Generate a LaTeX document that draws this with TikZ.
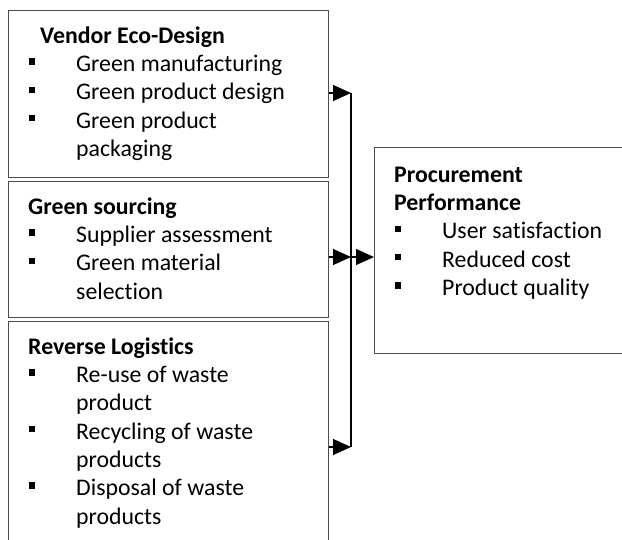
\documentclass[tikz,border=0pt]{standalone}
\usepackage{fontspec}
\setmainfont{Carlito}[Ligatures=NoCommon]
\usetikzlibrary{calc}
\usetikzlibrary{arrows.meta}

\newcommand{\itm}[1]{\makebox[48pt][l]{\hspace{0.5pt}\rule[6.8pt]{6.5pt}{6.5pt}}#1}
\newcommand{\cnt}[1]{\hspace*{48pt}#1}

\begin{document}
\begin{tikzpicture}[
    x=1pt, y=1pt,
    box/.style={
        draw=black!70, line width=1pt,
        minimum width=320pt, inner sep=0pt, anchor=north west
    },
    txt/.style={
        anchor=north west, align=left, inner sep=0pt,
        font=\fontsize{23.8}{28.3}\selectfont
    },
    l/.style={line width=1.1pt},
    arr/.style={line width=1.1pt, -{Triangle[length=18pt,width=16pt]}}
]
    \clip (0,0) rectangle (622,-539);

    \node [box, minimum height=167pt] (vendor) at (8,-10) {};
    \node [box, minimum height=136pt] (sourcing) at (8,-181) {};
    \node [box, minimum height=252pt] (reverse) at (8,-321) {};
    \node [box, minimum width=266pt, minimum height=206pt] (perf) at (374,-147) {};

    \node [txt] (vendor-t) at ($(vendor.north west)+(20,-13.2)$) {%
        \strut\hspace*{12pt}\textbf{Vendor Eco-Design}\\
        \itm{Green manufacturing}\\
        \itm{Green product design}\\
        \itm{Green product}\\
        \cnt{packaging}};
    \node [txt] (sourcing-t) at ($(sourcing.north west)+(20,-13.2)$) {%
        \strut\textbf{Green sourcing}\\
        \itm{Supplier assessment}\\
        \itm{Green material}\\
        \cnt{selection}};
    \node [txt] (reverse-t) at ($(reverse.north west)+(20,-13.2)$) {%
        \strut\textbf{Reverse Logistics}\\
        \itm{Re-use of waste}\\
        \cnt{product}\\
        \itm{Recycling of waste}\\
        \cnt{products}\\
        \itm{Disposal of waste}\\
        \cnt{products}};
    \node [txt] (perf-t) at ($(perf.north west)+(20,-15.2)$) {%
        \strut\textbf{Procurement}\\
        \textbf{Performance}\\
        \itm{User satisfaction}\\
        \itm{Reduced cost}\\
        \itm{Product quality}};

    \coordinate (j1) at (351,-93);
    \coordinate (j2) at (351,-257);
    \coordinate (j3) at (351,-447);

    \draw [l] (j1) -- (j3);
    \draw [arr] (vendor.east |- j1) -- (j1);
    \draw [arr] (sourcing.east |- j2) -- (j2);
    \draw [arr] (reverse.east |- j3) -- (j3);
    \draw [arr] (j2) -- (perf.west |- j2);

\end{tikzpicture}
\end{document}
